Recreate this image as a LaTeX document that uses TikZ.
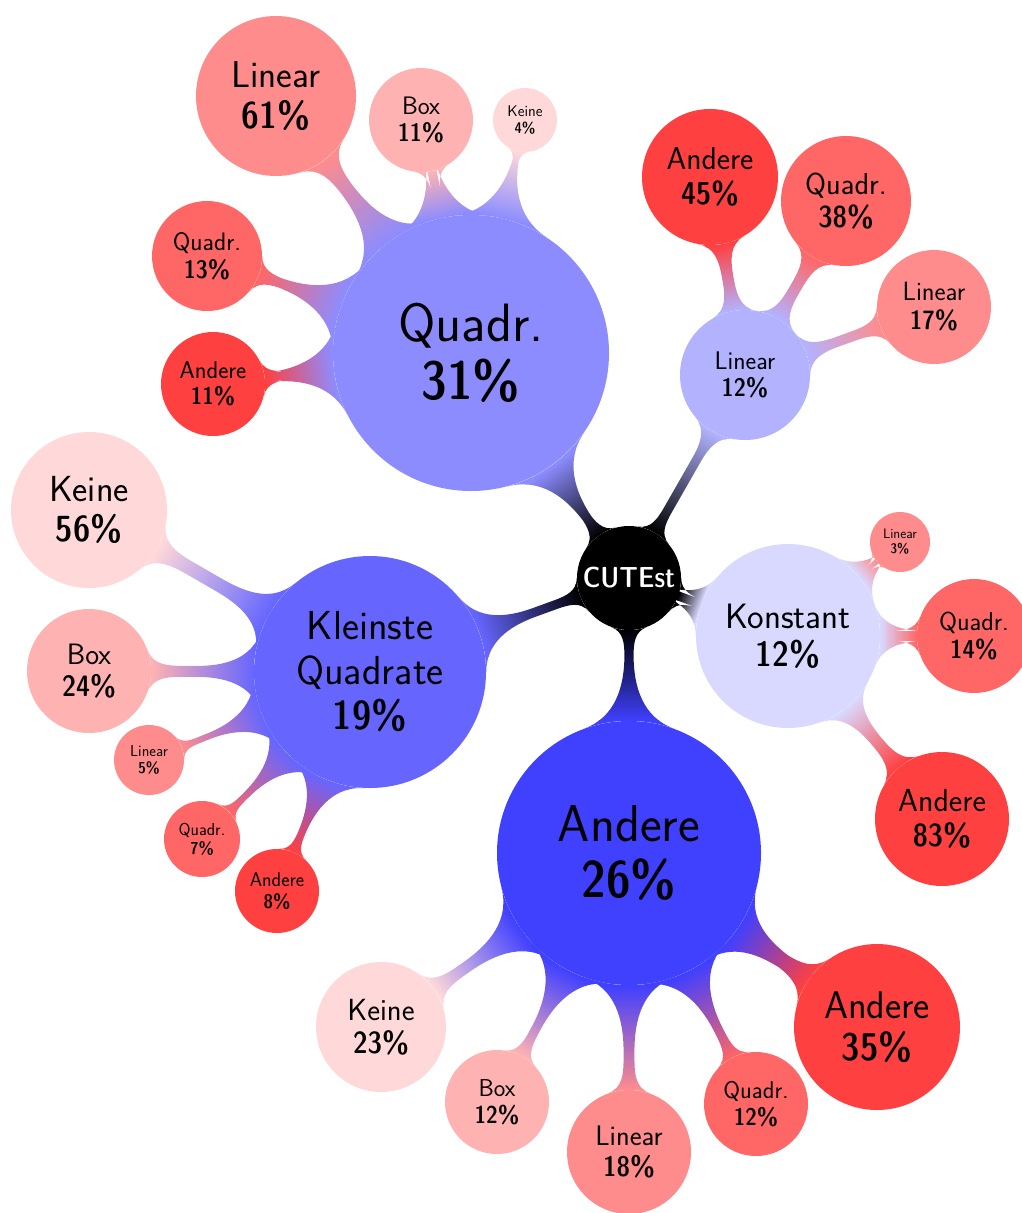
\documentclass[tikz,border=0pt]{standalone}
\usetikzlibrary{mindmap,backgrounds}
% percentages are set in the demi-condensed sans face
\newcommand\pct[1]{{\fontseries{sbc}\selectfont #1}}
\tikzset{
  bub/.style={circle, inner sep=0pt, align=center, text=black},
  fs/.style 2 args={font=\sffamily\fontsize{#1}{#2}\selectfont},
  keine/.style={bub, fill=red!15},
  box/.style={bub, fill=red!30},
  lin/.style={bub, fill=red!45},
  quad/.style={bub, fill=red!60},
  andere/.style={bub, fill=red!75},
  bar/.style={line width=#1pt},
}
\begin{document}
\begin{tikzpicture}[x=1pt,y=-1pt]
\useasboundingbox (0,0) rectangle (1022,1213);

% root concept
\node[bub, fill=black, text=white, minimum size=104pt, fs={29}{34}] (root) at (629,578) {\pct{CUTEst}};

% first level
\node[bub, fill=blue!45, minimum size=276pt, fs={54}{58}] (q1) at (471,353) {Quadr.\\\pct{31\%}};
\node[bub, fill=blue!60, minimum size=232pt, fs={40.5}{45}] (k1) at (370,672) {Kleinste\\Quadrate\\\pct{19\%}};
\node[bub, fill=blue!75, minimum size=264pt, fs={51.7}{56}] (a1) at (629,853) {Andere\\\pct{26\%}};
\node[bub, fill=blue!15, minimum size=184pt, fs={35.2}{38}] (ko) at (788,636) {Konstant\\\pct{12\%}};
\node[bub, fill=blue!30, minimum size=130pt, fs={25.5}{27}] (li) at (745,375) {Linear\\\pct{12\%}};

% children of Quadr.
\node[lin, minimum size=160pt, fs={37.4}{41}] (qa) at (276,96) {Linear\\\pct{61\%}};
\node[box, minimum size=104pt, fs={25.3}{27.5}] (qb) at (421,120) {Box\\\pct{11\%}};
\node[keine, minimum size=64pt, fs={15.4}{17}] (qc) at (525,120) {Keine\\\pct{4\%}};
\node[quad, minimum size=110pt, fs={25.3}{27.5}] (qd) at (207,256) {Quadr.\\\pct{13\%}};
\node[andere, minimum size=104pt, fs={24.2}{26.5}] (qe) at (213,384) {Andere\\\pct{11\%}};

% children of Linear
\node[andere, minimum size=136pt, fs={31.6}{34.5}] (la) at (710,177) {Andere\\\pct{45\%}};
\node[quad, minimum size=130pt, fs={30.3}{33}] (lb) at (846,201) {Quadr.\\\pct{38\%}};
\node[lin, minimum size=114pt, fs={26.4}{29}] (lc) at (934,307) {Linear\\\pct{17\%}};

% children of Konstant
\node[lin, minimum size=60pt, fs={13.75}{15}] (ka) at (900,542) {Linear\\\pct{3\%}};
\node[quad, minimum size=114pt, fs={26}{28.5}] (kb) at (974,636) {Quadr.\\\pct{14\%}};
\node[andere, minimum size=134pt, fs={31.9}{35}] (kc) at (942,819) {Andere\\\pct{83\%}};

% children of Andere
\node[keine, minimum size=130pt, fs={30.6}{33.5}] (aa) at (381,1027) {Keine\\\pct{23\%}};
\node[box, minimum size=104pt, fs={24.5}{27}] (ab) at (497,1102) {Box\\\pct{12\%}};
\node[lin, minimum size=124pt, fs={28.3}{31}] (ac) at (629,1152) {Linear\\\pct{18\%}};
\node[quad, minimum size=104pt, fs={24.2}{26.5}] (ad) at (756,1104) {Quadr.\\\pct{12\%}};
\node[andere, minimum size=166pt, fs={38.5}{42}] (ae) at (877,1027) {Andere\\\pct{35\%}};

% children of Kleinste Quadrate
\node[keine, minimum size=156pt, fs={36.3}{40}] (kq1) at (89,510) {Keine\\\pct{56\%}};
\node[box, minimum size=124pt, fs={29.5}{32}] (kq2) at (89,671) {Box\\\pct{24\%}};
\node[lin, minimum size=70pt, fs={15.8}{17.3}] (kq3) at (149,760) {Linear\\\pct{5\%}};
\node[quad, minimum size=76pt, fs={17.3}{19}] (kq4) at (202,839) {Quadr.\\\pct{7\%}};
\node[andere, minimum size=84pt, fs={19.8}{21.6}] (kq5) at (277,891) {Andere\\\pct{8\%}};

\begin{pgfonlayer}{background}
% root to first level
\path[bar=11] (root) to[circle connection bar switch color=from (black) to (blue!45)] (q1);
\path[bar=11] (root) to[circle connection bar switch color=from (black) to (blue!60)] (k1);
\path[bar=11] (root) to[circle connection bar switch color=from (black) to (blue!75)] (a1);
\path[bar=11] (root) to[circle connection bar switch color=from (black) to (blue!15)] (ko);
\path[bar=11] (root) to[circle connection bar switch color=from (black) to (blue!30)] (li);
% Quadr.
\path[bar=12] (q1) to[circle connection bar switch color=from (blue!45) to (red!45)] (qa);
\path[bar=10] (q1) to[circle connection bar switch color=from (blue!45) to (red!30)] (qb);
\path[bar=8] (q1) to[circle connection bar switch color=from (blue!45) to (red!15)] (qc);
\path[bar=10] (q1) to[circle connection bar switch color=from (blue!45) to (red!60)] (qd);
\path[bar=10] (q1) to[circle connection bar switch color=from (blue!45) to (red!75)] (qe);
% Linear
\path[bar=11] (li) to[circle connection bar switch color=from (blue!30) to (red!75)] (la);
\path[bar=11] (li) to[circle connection bar switch color=from (blue!30) to (red!60)] (lb);
\path[bar=10] (li) to[circle connection bar switch color=from (blue!30) to (red!45)] (lc);
% Konstant
\path[bar=7] (ko) to[circle connection bar switch color=from (blue!15) to (red!45)] (ka);
\path[bar=10] (ko) to[circle connection bar switch color=from (blue!15) to (red!60)] (kb);
\path[bar=11] (ko) to[circle connection bar switch color=from (blue!15) to (red!75)] (kc);
% Andere
\path[bar=11] (a1) to[circle connection bar switch color=from (blue!75) to (red!15)] (aa);
\path[bar=10] (a1) to[circle connection bar switch color=from (blue!75) to (red!30)] (ab);
\path[bar=11] (a1) to[circle connection bar switch color=from (blue!75) to (red!45)] (ac);
\path[bar=10] (a1) to[circle connection bar switch color=from (blue!75) to (red!60)] (ad);
\path[bar=12] (a1) to[circle connection bar switch color=from (blue!75) to (red!75)] (ae);
% Kleinste Quadrate
\path[bar=12] (k1) to[circle connection bar switch color=from (blue!60) to (red!15)] (kq1);
\path[bar=11] (k1) to[circle connection bar switch color=from (blue!60) to (red!30)] (kq2);
\path[bar=8] (k1) to[circle connection bar switch color=from (blue!60) to (red!45)] (kq3);
\path[bar=8] (k1) to[circle connection bar switch color=from (blue!60) to (red!60)] (kq4);
\path[bar=9] (k1) to[circle connection bar switch color=from (blue!60) to (red!75)] (kq5);
\end{pgfonlayer}
\end{tikzpicture}
\end{document}
